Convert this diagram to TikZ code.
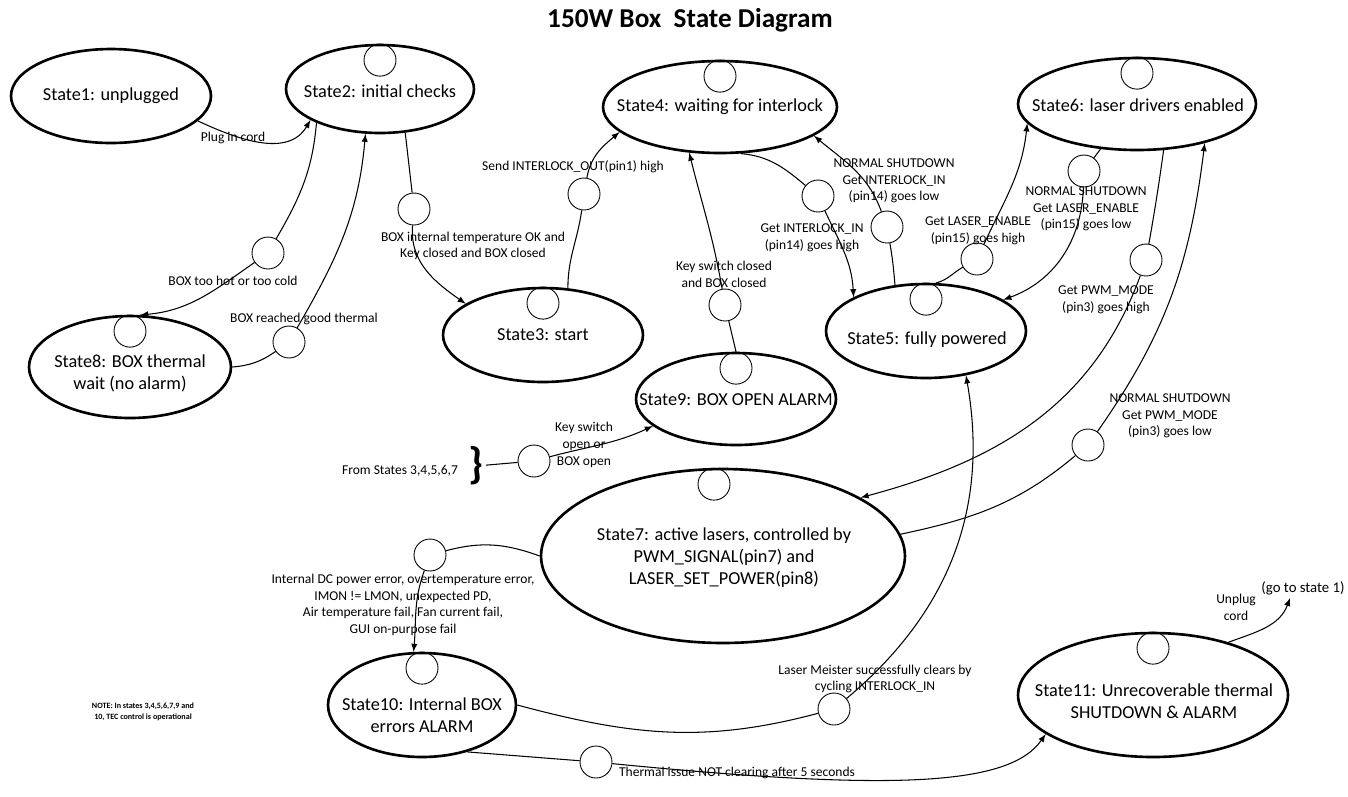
\documentclass[tikz,border=0pt]{standalone}
\usepackage{fontspec}
\setmainfont{Carlito}
\usetikzlibrary{shapes.geometric, positioning}

\tikzset{
	state/.style = {draw, ellipse, line width = 1.5pt, inner sep = 0pt},
	statetext/.style = {font = \fontsize{10.4}{12.5}\selectfont, align = center, inner sep = 0pt},
	dot/.style = {draw, circle, minimum size = 0.64 cm, inner sep = 0pt, line width = 0.5pt},
	tlabel/.style = {font = \fontsize{7.7}{9.5}\selectfont, align = center, inner sep = 0pt}
}

\begin{document}
\begin{tikzpicture}[> = latex, x = 0.02 cm, y = 0.02 cm, line width = 0.6pt]

\useasboundingbox (0, 0) rectangle (1348, -796);

% Title

\node [font = \fontsize{15.5}{18}\selectfont\bfseries] (title) at (690, -20) {150W Box\ \ State Diagram};

% The states

\node [state, minimum width = 4 cm, minimum height = 1.88 cm] (s1) at (111, -96) {};
\node [state, minimum width = 3.76 cm, minimum height = 1.76 cm] (s2) at (380, -89) {};
\node [state, minimum width = 4 cm, minimum height = 1.88 cm] (s3) at (543, -335) {};
\node [state, minimum width = 4.68 cm, minimum height = 1.84 cm] (s4) at (720, -107) {};
\node [state, minimum width = 4 cm, minimum height = 1.88 cm] (s5) at (926, -331) {};
\node [state, minimum width = 4.76 cm, minimum height = 1.84 cm] (s6) at (1137, -104) {};
\node [state, minimum width = 7.28 cm, minimum height = 3.48 cm] (s7) at (723, -556) {};
\node [state, minimum width = 4.04 cm, minimum height = 2.04 cm] (s8) at (130, -367) {};
\node [state, minimum width = 4 cm, minimum height = 1.84 cm] (s9) at (736, -399) {};
\node [state, minimum width = 3.76 cm, minimum height = 2.08 cm] (s10) at (422, -705) {};
\node [state, minimum width = 5.4 cm, minimum height = 2.48 cm] (s11) at (1153, -695) {};

% State texts

\node [statetext] (s1-text) at (111, -96) {State1: unplugged};
\node [statetext] (s2-text) at (380, -91) {State2: initial checks};
\node [statetext] (s3-text) at (543, -335) {State3: start};
\node [statetext] (s4-text) at (720, -107) {State4: waiting for interlock};
\node [statetext] (s5-text) at (927, -340) {State5: fully powered};
\node [statetext] (s6-text) at (1138, -105) {State6: laser drivers enabled};
\node [statetext] (s7-text) at (724, -558) {State7: active lasers, controlled by\\PWM\_SIGNAL(pin7) and\\LASER\_SET\_POWER(pin8)};
\node [statetext] (s8-text) at (130, -373) {State8: BOX thermal\\wait (no alarm)};
\node [statetext] (s9-text) at (736, -400) {State9: BOX OPEN ALARM};
\node [statetext] (s10-text) at (422, -715) {State10: Internal BOX\\errors ALARM};
\node [statetext] (s11-text) at (1154, -701) {State11: Unrecoverable thermal\\SHUTDOWN \& ALARM};

% Dots at the top of the states

\foreach \s in {s2, s3, s4, s5, s6, s8, s9, s10, s11}
	\node [dot, below = 0pt of \s.north] (\s-dot) {};
\node [dot, below = 0pt of s7.north, xshift = -0.18 cm] (s7-dot) {};

% Dots on the transitions

\node [dot] (t-hot) at (268, -253) {};
\node [dot] (t-thermal) at (289, -342) {};
\node [dot] (t-ok) at (414, -209) {};
\node [dot] (t-send) at (584, -194) {};
\node [dot] (t-keyc) at (725, -305) {};
\node [dot] (t-ilh) at (818, -196) {};
\node [dot] (t-ill) at (887, -227) {};
\node [dot] (t-leh) at (977, -259) {};
\node [dot] (t-lel) at (1084, -171) {};
\node [dot] (t-pwmh) at (1146, -260) {};
\node [dot] (t-pwml) at (1088, -445) {};
\node [dot] (t-open) at (534, -461) {};
\node [dot] (t-err) at (430, -555) {};
\node [dot] (t-clear) at (834, -709) {};
\node [dot] (t-therm) at (596, -762) {};

% From states 3 to 7

\node [font = \fontsize{7.7}{9.5}\selectfont, inner sep = 0pt] (l-from) at (400, -471) {From States 3,4,5,6,7};
\node [font = \fontsize{25}{25}\selectfont\bfseries, inner sep = 1pt] (brace) at (476, -466) {\}};
\coordinate (go) at (1290, -598);

% Transitions

\draw [->] (s1.344) to [out = -25, in = 240] (s2.204);

\draw (s2.208) to [out = 265, in = 60] (t-hot);
\draw [->] (t-hot) to [out = 215, in = 5] (s8.79);
\draw (s8.0) to [out = 5, in = 215] (t-thermal);
\draw [->] (t-thermal) to [out = 60, in = 265] (s2.252);

\draw (s2.300) -- (t-ok);
\draw [->] (t-ok) to [out = 265, in = 145] (s3.158);

\draw (s3.62) to [out = 90, in = 262] (t-send);
\draw [->] (t-send) to [out = 80, in = 220] (s4.194);

\draw (s9.90) -- (t-keyc);
\draw [->] (t-keyc) to [out = 100, in = 284] (s4.236);

\draw (s4.294) to [out = -5, in = 140] (t-ilh);
\draw [->] (t-ilh) to [out = 295, in = 93] (s5.155);
\draw (s5.124) to [out = 95, in = 280] (t-ill);
\draw [->] (t-ill) to [out = 110, in = 320] (s4.343);

\draw (s5.78) to [out = 15, in = 210] (t-leh);
\draw [->] (t-leh) to [out = 65, in = 264] (s6.190);
\draw (s6.231) -- (t-lel);
\draw [->] (t-lel) to [out = 268, in = 20] (s5.22);

\draw (s6.300) to [out = 262, in = 80] (t-pwmh);
\draw [->] (t-pwmh) to [out = 250, in = 15] (s7.23);
\draw (s7.7) to [out = 12, in = 220] (t-pwml);
\draw [->] (t-pwml) to [out = 55, in = 263] (s6.330);

\draw (brace) -- (t-open);
\draw [->] (t-open) to [out = 15, in = 205] (s9.198);

\draw (s7.180) to [out = 160, in = 15] (t-err);
\draw [->] (t-err) to [out = 250, in = 85] (s10.99);

\draw (s10.0) to [out = -15, in = 195] (t-clear);
\draw [->] (t-clear) to [out = 40, in = 280] (s5.312);

\draw (s10.314) -- (t-therm);
\draw [->] (t-therm) .. controls (900, -792) and (1010, -785) .. (s11.200);

\draw [->] (s11.35) to [out = 20, in = 250] (go);

% Transition labels

\node [tlabel] (l-plug) at (233, -138) {Plug in cord};
\node [tlabel] (l-hot) at (233, -281) {BOX too hot or too cold};
\node [tlabel] (l-thermal) at (304, -319) {BOX reached good thermal};
\node [tlabel] (l-ok) at (473, -246) {BOX internal temperature OK and\\Key closed and BOX closed};
\node [tlabel] (l-send) at (573, -167) {Send INTERLOCK\_OUT(pin1) high};
\node [tlabel] (l-keyc) at (724, -274) {Key switch closed\\and BOX closed};
\node [tlabel] (l-ilh) at (812, -238) {Get INTERLOCK\_IN\\(pin14) goes high};
\node [tlabel] (l-ill) at (894, -181) {NORMAL SHUTDOWN\\Get INTERLOCK\_IN\\(pin14) goes low};
\node [tlabel] (l-leh) at (978, -231) {Get LASER\_ENABLE\\(pin15) goes high};
\node [tlabel] (l-lel) at (1086, -209) {NORMAL SHUTDOWN\\Get LASER\_ENABLE\\(pin15) goes low};
\node [tlabel] (l-pwmh) at (1106, -300) {Get PWM\_MODE\\(pin3) goes high};
\node [tlabel] (l-pwml) at (1170, -416) {NORMAL SHUTDOWN\\Get PWM\_MODE\\(pin3) goes low};
\node [tlabel] (l-open) at (584, -445) {Key switch\\open or\\BOX open};
\node [tlabel] (l-err) at (403, -605) {Internal DC power error, overtemperature error,\\IMON != LMON, unexpected PD,\\Air temperature fail, Fan current fail,\\GUI on-purpose fail};
\node [tlabel] (l-clear) at (875, -679) {Laser Meister successfully clears by\\cycling INTERLOCK\_IN};
\node [tlabel] (l-therm) at (737, -773) {Thermal issue NOT clearing after 5 seconds};
\node [tlabel] (l-unplug) at (1236, -607) {Unplug\\cord};
\node [tlabel, font = \fontsize{8.4}{10}\selectfont] (l-go) at (1303, -588) {(go to state 1)};

% Note

\node [font = \fontsize{4.6}{6.2}\selectfont\bfseries, align = center] (note) at (143, -712) {NOTE: In states 3,4,5,6,7,9 and\\10, TEC control is operational};

\end{tikzpicture}
\end{document}
